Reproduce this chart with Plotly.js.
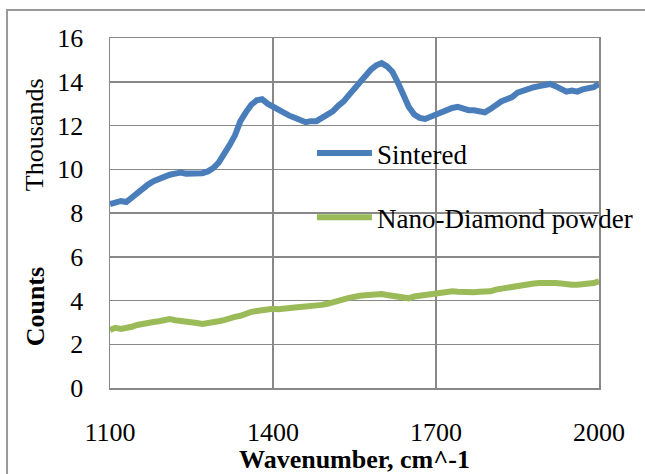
<!DOCTYPE html>
<html>
<head>
<meta charset="utf-8">
<script src="https://cdn.plot.ly/plotly-3.0.1.min.js"></script>
<style>html,body{margin:0;padding:0;background:#fff;}#chart{width:645px;height:474px;}</style>
</head>
<body>
<div id="chart"></div>
<script>
const wavenumber = [1100,1110,1120,1130,1140,1150,1160,1170,1180,1190,1200,1210,1220,1230,1240,1250,1260,1270,1280,1290,1300,1310,1320,1330,1340,1350,1360,1370,1380,1390,1400,1410,1420,1430,1440,1450,1460,1470,1480,1490,1500,1510,1520,1530,1540,1550,1560,1570,1580,1590,1600,1610,1620,1630,1640,1650,1660,1670,1680,1690,1700,1710,1720,1730,1740,1750,1760,1770,1780,1790,1800,1810,1820,1830,1840,1850,1860,1870,1880,1890,1900,1910,1920,1930,1940,1950,1960,1970,1980,1990,2000];

const sintered = [8.4,8.45,8.55,8.5,8.7,8.95,9.1,9.3,9.45,9.55,9.7,9.75,9.8,9.85,9.8,9.8,9.8,9.82,9.9,10.05,10.3,10.65,11.1,11.55,12.2,12.6,12.95,13.15,13.2,13.0,12.85,12.75,12.55,12.45,12.35,12.25,12.15,12.2,12.2,12.35,12.5,12.65,12.9,13.1,13.4,13.7,14.05,14.3,14.55,14.75,14.85,14.7,14.45,13.95,13.35,12.85,12.5,12.35,12.3,12.4,12.55,12.6,12.7,12.8,12.85,12.75,12.7,12.7,12.65,12.6,12.75,12.95,13.1,13.2,13.3,13.5,13.6,13.7,13.75,13.8,13.85,13.9,13.8,13.7,13.55,13.6,13.55,13.65,13.7,13.75,13.9];

const nanoDiamond = [2.65,2.75,2.7,2.72,2.8,2.88,2.95,3.0,3.02,3.05,3.12,3.15,3.1,3.05,3.05,3.0,2.97,2.93,2.95,3.0,3.05,3.1,3.2,3.25,3.3,3.4,3.48,3.52,3.56,3.58,3.62,3.6,3.65,3.66,3.68,3.7,3.72,3.72,3.76,3.8,3.85,3.9,3.97,4.05,4.12,4.2,4.22,4.24,4.28,4.26,4.3,4.25,4.22,4.2,4.12,4.1,4.18,4.22,4.28,4.3,4.33,4.38,4.4,4.42,4.4,4.38,4.4,4.38,4.4,4.38,4.42,4.5,4.55,4.6,4.65,4.7,4.72,4.75,4.78,4.8,4.82,4.82,4.8,4.78,4.72,4.72,4.72,4.75,4.75,4.8,4.88];

const seriesNames = ["Sintered", "Nano-Diamond powder"];
const xTickVals = [1100, 1400, 1700, 2000];
const yTickVals = [0, 2, 4, 6, 8, 10, 12, 14, 16];

const FONT = "Liberation Serif, Times New Roman, serif";

const traces = [
  {x: wavenumber, y: sintered, name: seriesNames[0], type: "scatter", mode: "lines",
   legendgroup: "a", line: {color: "#4A7EBB", width: 6}},
  {x: wavenumber, y: nanoDiamond, name: seriesNames[1], type: "scatter", mode: "lines",
   legendgroup: "b", line: {color: "#9BBB59", width: 6}}
];

const layout = {
  width: 645, height: 474,
  margin: {l: 110, r: 46, t: 38, b: 86, autoexpand: false},
  paper_bgcolor: "#fff", plot_bgcolor: "#fff",
  font: {family: FONT, size: 26, color: "#000"},
  showlegend: true,
  legend: {x: 0.413, y: 0.74, xanchor: "left", yanchor: "top", bgcolor: "rgba(0,0,0,0)",
           font: {family: FONT, size: 27, color: "#000"}, tracegroupgap: 26, itemwidth: 55,
           traceorder: "grouped"},
  xaxis: {range: [1100, 2000], tickvals: xTickVals, ticktext: xTickVals.map(String),
          showgrid: true, gridcolor: "#888", gridwidth: 1.5, zeroline: false,
          showline: true, linecolor: "#888", linewidth: 1.5, mirror: true, ticks: "",
          ticklabelstandoff: 20, tickfont: {family: FONT, size: 26},
          title: {text: "<b>Wavenumber, cm^-1</b>", font: {family: FONT, size: 26}, standoff: 6}},
  yaxis: {range: [0, 16], tickvals: yTickVals, showgrid: true, gridcolor: "#888", gridwidth: 1.5,
          zeroline: false, showline: true, linecolor: "#888", linewidth: 1.5, mirror: true, ticks: "",
          ticklabelstandoff: 20, tickfont: {family: FONT, size: 26}},
  annotations: [
    {text: "Thousands", xref: "paper", yref: "paper", x: -0.153, y: 0.723, textangle: -90,
     showarrow: false, xanchor: "center", yanchor: "middle", font: {family: FONT, size: 26}},
    {text: "<b>Counts</b>", xref: "paper", yref: "paper", x: -0.153, y: 0.231, textangle: -90,
     showarrow: false, xanchor: "center", yanchor: "middle", font: {family: FONT, size: 26}}
  ],
  shapes: [
    {type: "rect", xref: "paper", yref: "paper", x0: -0.2106, x1: 1.12, y0: -0.3, y1: 1.08,
     line: {color: "#999", width: 2}, fillcolor: "rgba(0,0,0,0)", layer: "below"}
  ]
};

Plotly.newPlot("chart", traces, layout, {displayModeBar: false, staticPlot: true});
</script>
</body>
</html>
